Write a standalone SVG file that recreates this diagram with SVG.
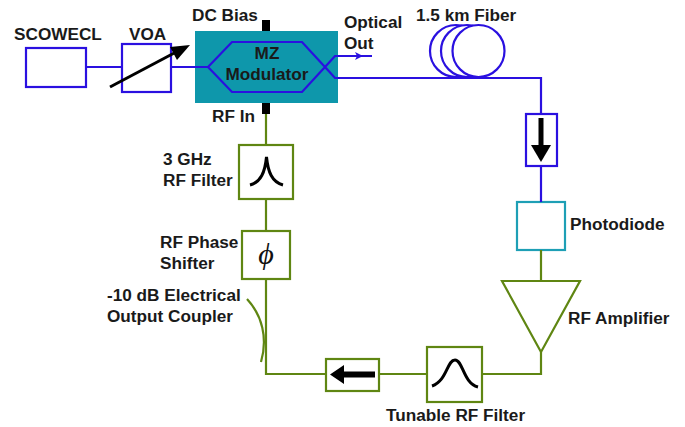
<svg xmlns="http://www.w3.org/2000/svg" width="685" height="427" viewBox="0 0 685 427">
<style>
text{font-family:"Liberation Sans",Arial,sans-serif;font-weight:700;font-size:17.2px;fill:#1a1a1a}
.b{fill:none;stroke:#2a10e0;stroke-width:2.2}
.w{fill:#fff;stroke:#2a10e0;stroke-width:2.2}
.g{fill:none;stroke:#5f8612;stroke-width:2.2}
.t{fill:none;stroke:#1e9fb5;stroke-width:2.2}
.k{fill:none;stroke:#000;stroke-width:3}
.s{fill:none;stroke:#000;stroke-width:5}
</style>
<rect width="685" height="427" fill="#fff"/>
<g id="scowecl"><rect class="b" x="26" y="48" width="60" height="39"/><text x="14" y="40">SCOWECL</text></g>
<g id="voa"><rect class="b" x="122" y="44" width="49" height="48"/><path class="k" d="M110 87L178 51"/><path d="M190 45L170 47L177 60Z"/><text x="129" y="40">VOA</text></g>
<g id="dc-bias"><rect x="262" y="20" width="8" height="11"/><text x="192" y="21">DC Bias</text></g>
<g id="rf-in"><rect x="262" y="103" width="8" height="11"/><text x="212" y="122">RF In</text></g>
<g id="mz-modulator"><rect x="195" y="31" width="143" height="72" fill="#0e97ab"/><path class="b" d="M208 67L232 42H302L325 67L302 92H232Z"/><text x="267" y="59" text-anchor="middle">MZ</text><text x="267" y="80" text-anchor="middle">Modulator</text></g>
<g id="optical-out"><text x="344" y="28">Optical</text><text x="344" y="49">Out</text></g>
<g id="fiber"><circle class="w" cx="456" cy="51" r="26"/><circle class="w" cx="467" cy="51" r="26"/><circle class="w" cx="478.500" cy="51" r="26"/><text x="416" y="21">1.5 km Fiber</text></g>
<g id="isolator-optical"><rect class="b" x="526" y="114" width="31" height="52"/><path class="s" d="M541 118V148"/><path d="M531 145H551L541 162Z"/></g>
<g id="photodiode"><rect class="t" x="517" y="202" width="48" height="48"/><text x="570" y="230">Photodiode</text></g>
<g id="rf-amplifier"><path class="g" d="M502 281H580L541 352Z"/><text x="568" y="324">RF Amplifier</text></g>
<g id="tunable-rf-filter"><rect class="g" x="427" y="347" width="55" height="55"/><path class="k" d="M432 386C447 381 447 360 455 360C463 360 463 383 478 387"/><text x="386" y="421">Tunable RF Filter</text></g>
<g id="isolator-rf"><rect class="g" x="326" y="359" width="53" height="32"/><path d="M375 371.500H344V365L330 374.500L344 384V377.500H375Z"/></g>
<g id="coupler"><path class="g" d="M247 299C262 315 268 338 261 362"/><text x="107" y="301">-10 dB Electrical</text><text x="107" y="322">Output Coupler</text></g>
<g id="phase-shifter"><rect class="g" x="242" y="231" width="48" height="48"/><text x="266" y="264" text-anchor="middle" style="font-family:'Liberation Serif',serif;font-style:italic;font-weight:400;font-size:30px;fill:#111">ϕ</text><text x="160" y="248">RF Phase</text><text x="160" y="269">Shifter</text></g>
<g id="rf-filter"><rect class="g" x="239" y="145" width="54" height="54"/><path class="k" d="M250 185C261 182 265 172 266.500 157C268 172 272 182 283 185"/><text x="163" y="165">3 GHz</text><text x="163" y="186">RF Filter</text></g>
<g id="connectors">
<path class="b" d="M86 67H122M171 67H208"/>
<path class="b" d="M325 67L335 56H372M325 67L335 78H541V114M541 166V202"/>
<path d="M355 52L363 56L355 60L357 56Z" fill="#2a10e0"/>
<path class="g" d="M266 114V145M266 199V231M266 279V374H326M379 374H427M482 374H541V352M541 250V281"/>
</g>
</svg>
